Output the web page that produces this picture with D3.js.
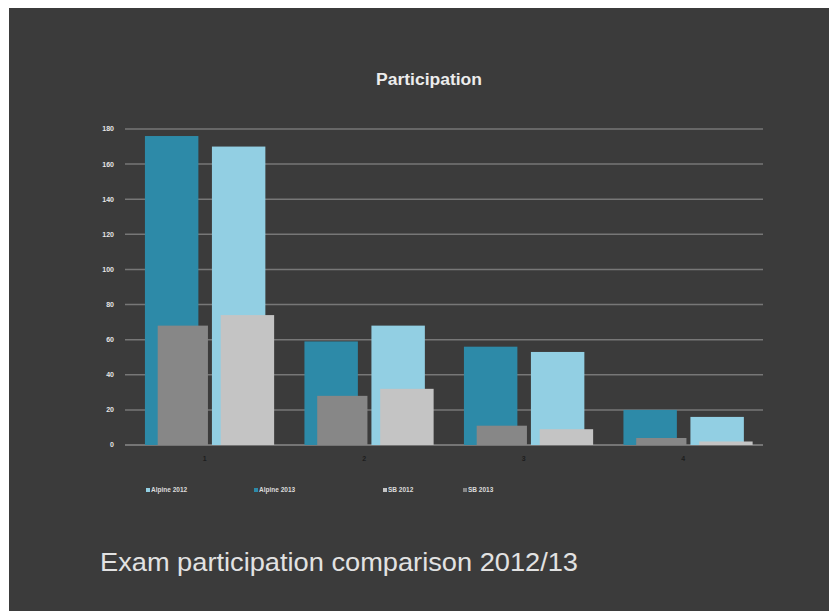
<!DOCTYPE html>
<html>
<head>
<meta charset="utf-8">
<script src="https://cdn.jsdelivr.net/npm/d3@7"></script>
<style>
  body { margin: 0; background: #ffffff; }
  svg { display: block; }
</style>
</head>
<body>
<div id="chart"></div>
<script>
// data
var categories = ["1", "2", "3", "4"];
var seriesNames = ["Alpine 2012", "Alpine 2013", "SB 2012", "SB 2013"];
var alpine2012 = [176, 59, 56, 20];
var alpine2013 = [170, 68, 53, 16];
var sb2012 = [68, 28, 11, 4];
var sb2013 = [74, 32, 9, 2];
var yTicks = [0, 20, 40, 60, 80, 100, 120, 140, 160, 180];

var width = 829, height = 611;
var marginLeft = 125, marginRight = 66, marginTop = 129, marginBottom = 166;

var svg = d3.select("#chart").append("svg")
    .attr("width", width)
    .attr("height", height);

// dark slide background (white strip left/top as in the photo)
svg.append("rect")
    .attr("x", 9).attr("y", 8)
    .attr("width", width - 9).attr("height", height - 8)
    .attr("fill", "#3b3b3b");

var x = d3.scaleBand()
    .domain(categories)
    .range([marginLeft, width - marginRight]);

var y = d3.scaleLinear()
    .domain([0, 180])
    .range([height - marginBottom, marginTop]);

// gridlines
svg.append("g")
    .selectAll("line")
    .data(yTicks)
    .enter()
    .append("line")
    .attr("x1", marginLeft)
    .attr("x2", width - marginRight)
    .attr("y1", function(d) { return y(d); })
    .attr("y2", function(d) { return y(d); })
    .attr("stroke", function(d) { return d == 0 ? "#8a8a8a" : "#777777"; })
    .attr("stroke-width", 1.5);

// y labels
svg.append("g")
    .selectAll("text")
    .data(yTicks)
    .enter()
    .append("text")
    .attr("x", marginLeft - 11)
    .attr("y", function(d) { return y(d); })
    .attr("dy", "0.35em")
    .attr("text-anchor", "end")
    .attr("font-family", "Liberation Sans, Arial, sans-serif")
    .attr("font-size", 7)
    .attr("font-weight", "bold")
    .attr("fill", "#e6e6e6")
    .text(function(d) { return d; });

// bars: blue pair behind, grey pair in front, shifted right
var bw = x.bandwidth();
var bars = [
  { values: alpine2012, color: "#2d8aa8", offset: 0.125, w: 0.335 },
  { values: alpine2013, color: "#92cfe3", offset: 0.545, w: 0.335 },
  { values: sb2012, color: "#878787", offset: 0.205, w: 0.315 },
  { values: sb2013, color: "#c4c4c4", offset: 0.6, w: 0.335 }
];

bars.forEach(function(s) {
    svg.append("g")
      .selectAll("rect")
      .data(s.values)
      .enter()
      .append("rect")
      .attr("x", function(d, i) { return x(categories[i]) + s.offset * bw; })
      .attr("width", s.w * bw)
      .attr("y", function(d) { return y(d); })
      .attr("height", function(d) { return y(0) - y(d); })
      .attr("fill", s.color);
});

// x category labels
svg.append("g")
    .selectAll("text")
    .data(categories)
    .enter()
    .append("text")
    .attr("x", function(d) { return x(d) + bw / 2; })
    .attr("y", y(0) + 16)
    .attr("text-anchor", "middle")
    .attr("font-family", "Liberation Sans, Arial, sans-serif")
    .attr("font-size", 7)
    .attr("font-weight", "bold")
    .attr("fill", "#1e1e1e")
    .text(function(d) { return d; });

// title
svg.append("text")
    .attr("x", 429)
    .attr("y", 85)
    .attr("text-anchor", "middle")
    .attr("font-family", "Liberation Sans Narrow, Liberation Sans, sans-serif")
    .attr("font-size", 16)
    .attr("font-weight", "bold")
    .attr("textLength", 106)
    .attr("lengthAdjust", "spacingAndGlyphs")
    .attr("fill", "#ececec")
    .text("Participation");

// legend
var legendX = [146, 254, 383, 463];
var legendColors = ["#92cfe3", "#2d8aa8", "#c4c4c4", "#878787"];
var legend = svg.append("g");
seriesNames.forEach(function(name, i) {
    legend.append("rect")
        .attr("x", legendX[i])
        .attr("y", 488)
        .attr("width", 4).attr("height", 4)
        .attr("fill", legendColors[i]);
    legend.append("text")
        .attr("x", legendX[i] + 5)
        .attr("y", 492)
        .attr("font-family", "Liberation Sans, Arial, sans-serif")
        .attr("font-size", 6.5)
        .attr("font-weight", "bold")
        .attr("fill", "#dcdcdc")
        .text(name);
});

// slide caption
svg.append("text")
    .attr("x", 100)
    .attr("y", 571)
    .attr("font-family", "Liberation Sans Narrow, Liberation Sans, Arial, sans-serif")
    .attr("font-size", 26)
    .attr("textLength", 478)
    .attr("lengthAdjust", "spacingAndGlyphs")
    .attr("fill", "#e2e2e2")
    .text("Exam participation comparison 2012/13");
</script>
</body>
</html>
